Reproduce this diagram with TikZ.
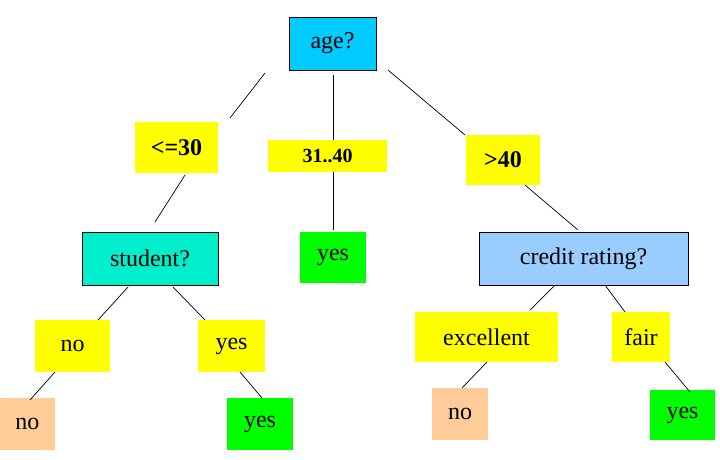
\documentclass[tikz,border=0pt]{standalone}
\usepackage{fontspec}
\setmainfont{Liberation Serif}
\definecolor{agec}{RGB}{0,204,255}
\definecolor{stuc}{RGB}{0,238,204}
\definecolor{crc}{RGB}{153,204,255}
\definecolor{ylw}{RGB}{255,255,0}
\definecolor{grn}{RGB}{0,255,0}
\definecolor{pch}{RGB}{255,204,153}
\tikzset{
 bx/.style={inner sep=0pt,font=\fontsize{24}{24}\selectfont},
 q/.style={bx,draw=black,line width=0.6pt},
 lab/.style={bx,fill=ylw},
 lf/.style={bx},
 ln/.style={line width=0.7pt}
}
\newcommand{\bxat}[8]{\node[#1,fill=#2,minimum width=#5pt,minimum height=#6pt] (#7) at ({(#3+#5/2)*1pt},{-(#4+#6/2)*1pt}) {#8};}
\begin{document}
\begin{tikzpicture}[x=1pt,y=-1pt]
\useasboundingbox (0,0) rectangle (720,459);
\bxat{q}{agec}{289}{17}{87}{53}{age}{age?}
\bxat{lab}{ylw}{135}{122}{83}{51}{le}{\textbf{<=30}}
\bxat{lab}{ylw}{268}{140}{119}{32}{mid}{\fontsize{20}{20}\selectfont\textbf{31..40}}
\bxat{lab}{ylw}{466}{135}{74}{50}{gt}{\textbf{>40}}
\bxat{q}{stuc}{82}{232}{136}{53}{stu}{student?}
\bxat{lf}{grn}{300}{232}{66}{51}{y1}{yes}
\bxat{q}{crc}{479}{232}{209}{53}{cr}{credit rating?}
\bxat{lab}{ylw}{35}{320}{75}{52}{sno}{no}
\bxat{lab}{ylw}{198}{320}{67}{52}{syes}{yes}
\bxat{lab}{ylw}{415}{312}{143}{50}{exc}{excellent}
\bxat{lab}{ylw}{612}{312}{58}{50}{fair}{fair}
\bxat{lf}{pch}{0}{398}{55}{52}{n1}{no}
\bxat{lf}{grn}{227}{398}{66}{52}{y2}{yes}
\bxat{lf}{pch}{432}{388}{56}{52}{n2}{no}
\bxat{lf}{grn}{650}{390}{65}{50}{y3}{yes}
\foreach \n/\a/\b/\c/\d in {a/265/73/230/118, b/333/75/333/140, c/388/70/465/135,
 d/185/175/155/222, e/333/172/333/230, f/525/185/578/230,
 g/128/287/98/320, h/173/287/205/320, i/55/372/30/400, j/240/372/262/398,
 k/555/285/530/310, l/605/285/625/312, m/487/362/462/388, o/665/362/690/392}{
 \coordinate (\n1) at (\a,\b); \coordinate (\n2) at (\c,\d);
 \draw[ln] (\n1) -- (\n2);}
\end{tikzpicture}
\end{document}
